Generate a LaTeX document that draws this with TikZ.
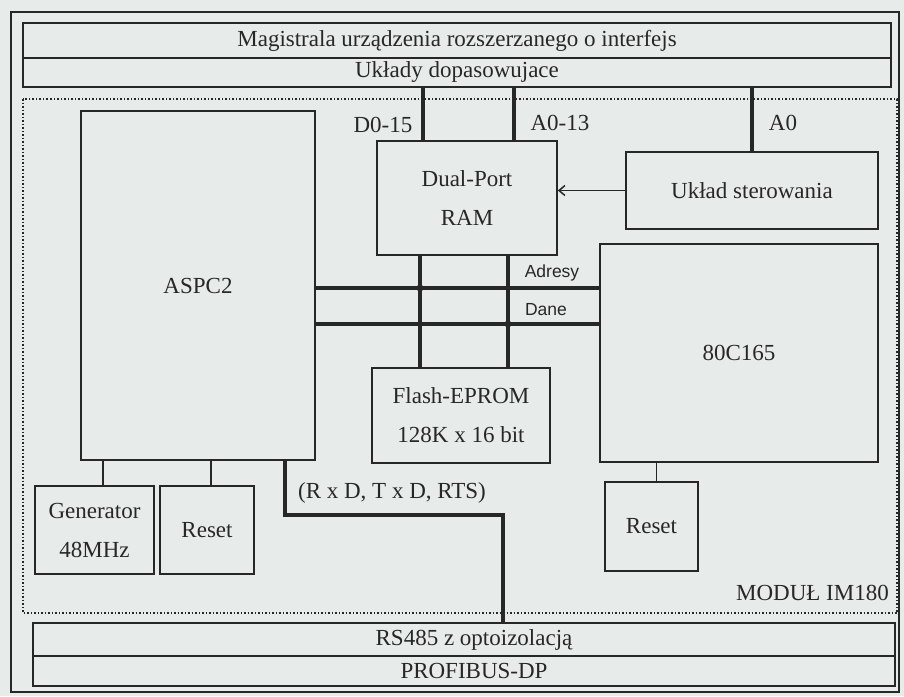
\documentclass[tikz,border=0pt]{standalone}
\usepackage{fontspec}
\setmainfont{Liberation Serif}
\newfontfamily\labfont{Liberation Sans}
\usetikzlibrary{arrows.meta}
\definecolor{paper}{RGB}{231,235,233}
\definecolor{ink}{RGB}{38,40,40}
\tikzset{
  blk/.style={draw=ink, line width=1.6pt, rectangle, inner sep=0pt, align=center,
    text=ink, font=\fontsize{23}{39}\selectfont},
  bus/.style={draw=ink, line width=3.2pt},
  wire/.style={draw=ink, line width=1.5pt},
  lab/.style={text=ink, font=\fontsize{23}{27}\selectfont, inner sep=0pt},
  small/.style={text=ink, font=\labfont\fontsize{17.5}{20}\selectfont, inner sep=0pt}
}
\begin{document}
\begin{tikzpicture}[x=1pt, y=-1pt]
  \fill[paper] (0,0) rectangle (904,696);
  \useasboundingbox (0,0) rectangle (904,696);
  \draw[ink, line width=2pt] (11,12) rectangle (899,692);
  \draw[ink, dotted, line width=1.5pt] (23,99) rectangle (897,613);
  % bars
  \node[blk, minimum width=868, minimum height=35] (mag) at (457,40.5) {Magistrala urządzenia rozszerzanego o interfejs};
  \node[blk, minimum width=868, minimum height=29] (uklady) at (457,72.5) {Układy dopasowujace};
  \node[blk, minimum width=862, minimum height=33] (rs) at (464,639.5) {\hspace*{20pt}RS485 z optoizolacją};
  \node[blk, minimum width=862, minimum height=30] (dp) at (464,671) {\hspace*{20pt}PROFIBUS-DP};
  % blocks
  \node[blk, minimum width=234, minimum height=349] (aspc) at (198,285.5) {ASPC2};
  \node[blk, minimum width=180, minimum height=114] (dpram) at (467,198) {Dual-Port\\RAM};
  \node[blk, minimum width=252, minimum height=77] (ster) at (752,190.5) {Układ sterowania};
  \node[blk, minimum width=278, minimum height=218] (mcu) at (739,353) {80C165};
  \node[blk, minimum width=178, minimum height=95] (flash) at (461,415.5) {Flash-EPROM\\128K x 16 bit};
  \node[blk, minimum width=119, minimum height=88] (gen) at (94.5,530) {Generator\\48MHz};
  \node[blk, minimum width=94, minimum height=88] (rsta) at (207,530) {Reset};
  \node[blk, minimum width=93, minimum height=89] (rstb) at (651.5,526.5) {Reset};
  \node[lab, anchor=east] (modul) at (889,593) {MODUŁ IM180};
  % helper coordinates
  \coordinate (adr) at (0,288);
  \coordinate (dan) at (0,324);
  \coordinate (va) at (420,0);
  \coordinate (vb) at (508,0);
  \coordinate (ser) at (285,515);
  \coordinate (sx) at (503,0);
  % buses
  \draw[bus] ([xshift=-44]dpram.north) -- ([xshift=-44]dpram.north |- uklady.south);
  \draw[bus] ([xshift=47]dpram.north) -- ([xshift=47]dpram.north |- uklady.south);
  \draw[bus] (ster.north) -- (ster.north |- uklady.south);
  \draw[bus] (aspc.east |- adr) -- (mcu.west |- adr);
  \draw[bus] (aspc.east |- dan) -- (mcu.west |- dan);
  \draw[bus] (va |- dpram.south) -- (va |- flash.north);
  \draw[bus] (vb |- dpram.south) -- (vb |- flash.north);
  \fill[ink] (va |- adr) circle (3.5);
  \fill[ink] (vb |- dan) circle (3.5);
  \draw[bus] (ser |- aspc.south) -- (ser) -| (sx |- rs.north);
  % thin links
  \draw[wire, -{Straight Barb[length=6pt, width=10pt]}] (ster.west) -- (ster.west -| dpram.east);
  \draw[wire] ([xshift=8.5]gen.north) -- ([xshift=8.5]gen.north |- aspc.south);
  \draw[wire] ([xshift=4]rsta.north) -- ([xshift=4]rsta.north |- aspc.south);
  \draw[wire] ([xshift=5]rstb.north) -- ([xshift=5]rstb.north |- mcu.south);
  % labels
  \node[lab] (ld) at (383,125) {D0-15};
  \node[lab] (la) at (560,123) {A0-13};
  \node[lab] (lz) at (783,123) {A0};
  \node[small] (ladr) at (552,273) {Adresy};
  \node[small] (ldan) at (546,310) {Dane};
  \node[lab] (lser) at (392,493) {(R x D, T x D, RTS)};
\end{tikzpicture}
\end{document}
